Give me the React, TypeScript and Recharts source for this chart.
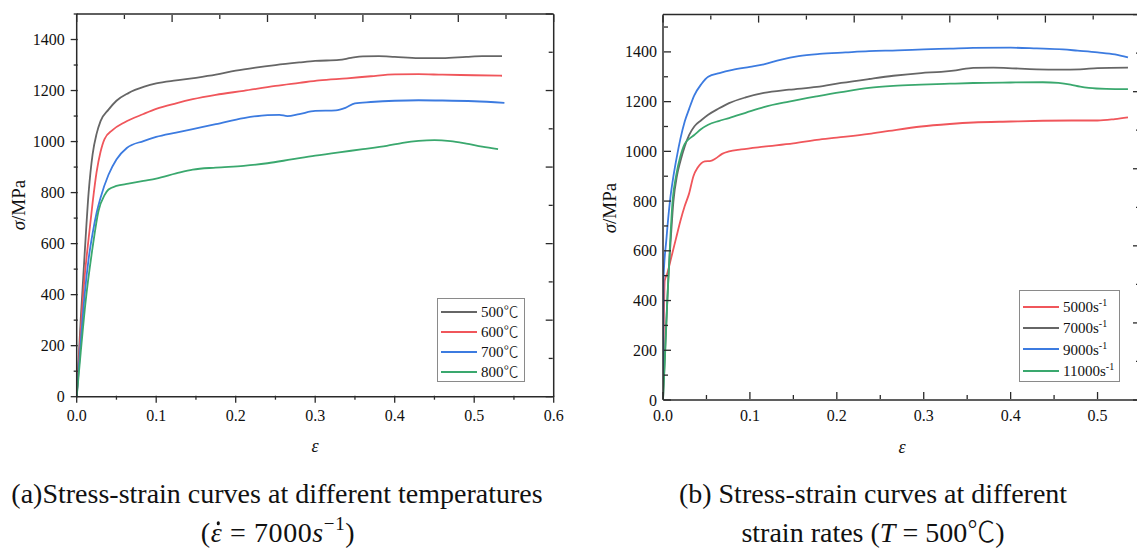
import { LineChart, Line, XAxis, YAxis } from 'recharts';

const FONT = '"Liberation Serif", "Times New Roman", Times, serif';
const AXIS = '#2a2a2a';
const TEXT = '#111';

// (a) different temperatures, strain rate 7000 s^-1 : [strain, stress MPa]
const tempNames = ['500', '600', '700', '800'];
const tempColors = ['#666666', '#f0565b', '#3c7be0', '#3aa86e'];

const t500 = [
  [0, 0], [0.005, 300], [0.01, 560], [0.015, 800], [0.02, 950], [0.025, 1030], [0.03, 1080],
  [0.04, 1125], [0.05, 1160], [0.065, 1190], [0.085, 1215], [0.1, 1228], [0.125, 1240],
  [0.15, 1250], [0.175, 1262], [0.2, 1278], [0.225, 1290], [0.25, 1300], [0.28, 1310],
  [0.3, 1316], [0.33, 1320], [0.345, 1328], [0.36, 1334], [0.38, 1335], [0.4, 1332],
  [0.43, 1327], [0.46, 1327], [0.49, 1332], [0.51, 1335], [0.535, 1335],
];
const t600 = [
  [0, 0], [0.005, 260], [0.01, 470], [0.015, 620], [0.02, 760], [0.025, 880], [0.03, 960],
  [0.035, 1010], [0.045, 1045], [0.06, 1075], [0.084, 1108], [0.1, 1128], [0.125, 1150],
  [0.146, 1166], [0.175, 1183], [0.21, 1199], [0.25, 1218], [0.28, 1230], [0.305, 1240],
  [0.34, 1248], [0.37, 1256], [0.4, 1263], [0.43, 1264], [0.46, 1262], [0.5, 1260], [0.535, 1258],
];
const t700 = [
  [0, 0], [0.005, 210], [0.01, 400], [0.015, 540], [0.02, 640], [0.025, 720], [0.03, 780],
  [0.04, 870], [0.05, 930], [0.063, 975], [0.084, 1002], [0.1, 1018], [0.125, 1035],
  [0.146, 1049], [0.175, 1068], [0.21, 1092], [0.24, 1104], [0.255, 1105], [0.265, 1100],
  [0.28, 1108], [0.3, 1120], [0.326, 1122], [0.338, 1132], [0.35, 1150], [0.37, 1155],
  [0.4, 1160], [0.43, 1162], [0.46, 1161], [0.5, 1158], [0.538, 1152],
];
const t800 = [
  [0, 0], [0.005, 172], [0.011, 367], [0.02, 585], [0.0275, 729], [0.035, 790], [0.04, 812],
  [0.05, 826], [0.065, 835], [0.084, 846], [0.1, 855], [0.125, 875], [0.146, 890], [0.175, 898],
  [0.21, 905], [0.24, 915], [0.27, 930], [0.3, 945], [0.33, 958], [0.36, 970], [0.39, 983],
  [0.41, 995], [0.43, 1003], [0.45, 1006], [0.47, 1002], [0.49, 992], [0.51, 980], [0.53, 970],
];

// (b) different strain rates, T = 500℃
const rateNames = ['5000', '7000', '9000', '11000'];
const rateColors = ['#f0565b', '#666666', '#3c7be0', '#3aa86e'];

const r5000 = [
  [0, 0], [0.002, 480], [0.005, 510], [0.01, 580], [0.015, 650], [0.02, 720], [0.025, 780],
  [0.03, 830], [0.035, 900], [0.04, 935], [0.048, 960], [0.055, 962], [0.06, 970], [0.068, 990],
  [0.076, 1000], [0.09, 1008], [0.116, 1019], [0.15, 1032], [0.177, 1046], [0.2, 1055],
  [0.237, 1070], [0.26, 1082], [0.297, 1100], [0.33, 1110], [0.357, 1116], [0.4, 1120],
  [0.437, 1123], [0.47, 1124], [0.5, 1124], [0.52, 1130], [0.535, 1137],
];
const r7000 = [
  [0, 0], [0.003, 250], [0.006, 480], [0.009, 650], [0.012, 800], [0.016, 900], [0.02, 960],
  [0.025, 1020], [0.03, 1065], [0.036, 1100], [0.044, 1125], [0.052, 1147], [0.064, 1172],
  [0.076, 1194], [0.095, 1217], [0.116, 1235], [0.145, 1248], [0.177, 1259], [0.205, 1275],
  [0.237, 1291], [0.265, 1304], [0.297, 1315], [0.32, 1320], [0.337, 1326], [0.357, 1336],
  [0.38, 1337], [0.397, 1335], [0.43, 1330], [0.457, 1329], [0.48, 1330], [0.5, 1335], [0.535, 1337],
];
const r9000 = [
  [0, 0], [0.0005, 480], [0.004, 650], [0.008, 800], [0.012, 900], [0.016, 980], [0.02, 1050],
  [0.025, 1120], [0.03, 1170], [0.036, 1225], [0.044, 1270], [0.052, 1300], [0.065, 1315],
  [0.08, 1328], [0.1, 1340], [0.116, 1350], [0.135, 1368], [0.156, 1383], [0.18, 1392],
  [0.21, 1398], [0.237, 1403], [0.27, 1406], [0.3, 1410], [0.33, 1413], [0.357, 1416],
  [0.4, 1417], [0.43, 1414], [0.46, 1410], [0.477, 1405], [0.5, 1398], [0.52, 1390], [0.535, 1378],
];
const r11000 = [
  [0, 0], [0.002, 150], [0.005, 400], [0.008, 620], [0.011, 800], [0.015, 900], [0.02, 980],
  [0.025, 1030], [0.03, 1050], [0.036, 1066], [0.044, 1090], [0.052, 1107], [0.064, 1122],
  [0.076, 1134], [0.095, 1155], [0.116, 1178], [0.145, 1200], [0.177, 1221], [0.205, 1238],
  [0.237, 1255], [0.265, 1263], [0.297, 1268], [0.33, 1272], [0.357, 1275], [0.4, 1277],
  [0.437, 1278], [0.455, 1275], [0.469, 1268], [0.48, 1260], [0.49, 1255], [0.51, 1251], [0.535, 1250],
];

// tick values
const leftStrainTicks = [0, 0.05, 0.1, 0.15, 0.2, 0.25, 0.3, 0.35, 0.4, 0.45, 0.5, 0.55, 0.6];
const leftTopTicks = [0, 0.06, 0.12, 0.18, 0.24, 0.3, 0.36, 0.42, 0.48, 0.54, 0.6];
const leftStressTicks = [0, 100, 200, 300, 400, 500, 600, 700, 800, 900, 1000, 1100, 1200, 1300, 1400, 1500];
const leftRightTicks = [0, 150, 300, 450, 600, 750, 900, 1050, 1200, 1350, 1500];
const rightStrainTicks = [0, 0.05, 0.1, 0.15, 0.2, 0.25, 0.3, 0.35, 0.4, 0.45, 0.5, 0.55];
const rightTopTicks = [0, 0.055, 0.11, 0.165, 0.22, 0.275, 0.33, 0.385, 0.44, 0.495, 0.55];
const rightStressTicks = [0, 100, 200, 300, 400, 500, 600, 700, 800, 900, 1000, 1100, 1200, 1300, 1400, 1500];
const rightRightTicks = [0, 155, 310, 465, 620, 775, 930, 1085, 1240, 1395, 1550];

const toPoints = (pairs: number[][]) => pairs.map(([e, s]) => ({ e, s }));

const isMajorStrain = (v: number) => Math.abs(v * 10 - Math.round(v * 10)) < 1e-6;
const isMajorStress = (v: number) => v % 200 === 0;

// tick x/y arrive at the axis line (axis size 1, tickSize 0, tickMargin 0)
function BottomTick(props: any) {
  const { x, y, payload, dir, labelDy } = props;
  const y0 = y - 1;
  const major = isMajorStrain(payload.value);
  const len = major ? 7 : 4;
  return (
    <g>
      <line x1={x} x2={x} y1={y0} y2={y0 + dir * len} stroke={AXIS} strokeWidth={1.3} />
      {major && (
        <text x={x} y={y0 + labelDy} textAnchor="middle" dominantBaseline="central"
          fontFamily={FONT} fontSize={16} fill={TEXT}>
          {payload.value.toFixed(1)}
        </text>
      )}
    </g>
  );
}

function LeftTick(props: any) {
  const { x, y, payload, dir, labelDx } = props;
  const x0 = x + 1;
  const major = isMajorStress(payload.value);
  const len = major ? 7 : 4;
  if (payload.value > 1400) {
    return <line x1={x0} x2={x0 + dir * 4} y1={y} y2={y} stroke={AXIS} strokeWidth={1.3} />;
  }
  return (
    <g>
      <line x1={x0} x2={x0 + dir * len} y1={y} y2={y} stroke={AXIS} strokeWidth={1.3} />
      {major && (
        <text x={x0 - labelDx} y={y} textAnchor="end" dominantBaseline="central"
          fontFamily={FONT} fontSize={16} fill={TEXT}>
          {payload.value}
        </text>
      )}
    </g>
  );
}

function TopTick(props: any) {
  const { x, y, index } = props;
  const y0 = y + 1;
  const len = index % 2 === 0 ? 7 : 4;
  return <line x1={x} x2={x} y1={y0} y2={y0 + len} stroke={AXIS} strokeWidth={1.3} />;
}

function RightTick(props: any) {
  const { x, y, index } = props;
  const x0 = x - 1;
  const len = index % 2 === 0 ? 7 : 4;
  return <line x1={x0} x2={x0 - len} y1={y} y2={y} stroke={AXIS} strokeWidth={1.3} />;
}

const axisLine = { stroke: AXIS, strokeWidth: 1.5 };

function StressChart(props: {
  series: number[][][];
  colors: string[];
  xMax: number;
  yMax: number;
  xTicks: number[];
  topTicks: number[];
  yTicks: number[];
  rightTicks: number[];
  width: number;
  height: number;
  margin: { top: number; right: number; bottom: number; left: number };
  xDir: number;
  yDir: number;
  xLabelDy: number;
  yLabelDx: number;
}) {
  const p = props;
  const m = p.margin;
  return (
    <LineChart width={p.width} height={p.height}
      margin={{ top: m.top - 1, right: m.right - 1, bottom: m.bottom - 1, left: m.left - 1 }}>
      <XAxis xAxisId="b" dataKey="e" type="number" domain={[0, p.xMax]} ticks={p.xTicks} interval={0}
        height={1} tickSize={0} tickMargin={0} tickLine={false} axisLine={axisLine}
        allowDataOverflow
        tick={(tp: any) => <BottomTick {...tp} dir={p.xDir} labelDy={p.xLabelDy} />} />
      <XAxis xAxisId="t" orientation="top" dataKey="e" type="number" domain={[0, p.xMax]}
        ticks={p.topTicks} interval={0} height={1} tickSize={0} tickMargin={0}
        tickLine={false} axisLine={axisLine} allowDataOverflow
        tick={(tp: any) => <TopTick {...tp} />} />
      <YAxis yAxisId="l" type="number" domain={[0, p.yMax]} ticks={p.yTicks} interval={0} width={1}
        tickSize={0} tickMargin={0} tickLine={false} axisLine={axisLine} allowDataOverflow
        tick={(tp: any) => <LeftTick {...tp} dir={p.yDir} labelDx={p.yLabelDx} />} />
      <YAxis yAxisId="r" orientation="right" type="number" domain={[0, p.yMax]}
        ticks={p.rightTicks} interval={0} width={1} tickSize={0} tickMargin={0}
        tickLine={false} axisLine={axisLine} allowDataOverflow
        tick={(tp: any) => <RightTick {...tp} />} />
      {p.series.map((s, i) => (
        <Line key={i} xAxisId="b" yAxisId="l" data={toPoints(s)} dataKey="s" type="monotone"
          stroke={p.colors[i]} strokeWidth={1.8} dot={false} activeDot={false}
          isAnimationActive={false} />
      ))}
    </LineChart>
  );
}

const abs = (left: number, top: number): React.CSSProperties => ({ position: 'absolute', left, top });

const Deg = () => (
  <span style={{ fontFamily: '"Noto Sans CJK SC", "DejaVu Sans", sans-serif', fontWeight: 300, lineHeight: 1 }}>℃</span>
);

function LegendBox(props: {
  left: number; top: number; width: number; height: number; rowTop: number; rowH: number;
  names: React.ReactNode[]; colors: string[];
}) {
  const p = props;
  return (
    <div style={{ ...abs(p.left, p.top), width: p.width, height: p.height, border: '1px solid #8a8a8a',
      boxSizing: 'border-box', background: '#fff', fontFamily: FONT, fontSize: 15, color: TEXT }}>
      {p.names.map((n, i) => (
        <div key={i} style={{ position: 'absolute', left: 3, top: p.rowTop + i * p.rowH, height: p.rowH,
          display: 'flex', alignItems: 'center', whiteSpace: 'nowrap' }}>
          <span style={{ display: 'inline-block', width: 36, height: 2, background: p.colors[i] }} />
          <span style={{ marginLeft: 4 }}>{n}</span>
        </div>
      ))}
    </div>
  );
}

const centered = (cx: number, cy: number, size: number): React.CSSProperties => ({
  position: 'absolute', left: cx, top: cy, transform: 'translate(-50%, -50%)', whiteSpace: 'nowrap',
  fontFamily: FONT, fontSize: size, color: TEXT, lineHeight: 1.2,
});

export default function App() {
  return (
    <div style={{ position: 'absolute', left: 0, top: 0, width: 1137, height: 549, overflow: 'hidden', background: '#fff' }}>
      <div style={abs(0, 0)}>
        <StressChart series={[t500, t600, t700, t800]} colors={tempColors} xMax={0.6} yMax={1500}
          xTicks={leftStrainTicks} topTicks={leftTopTicks} yTicks={leftStressTicks} rightTicks={leftRightTicks}
          width={590} height={470} margin={{ top: 14, left: 76.7, right: 36.3, bottom: 73.3 }}
          xDir={1} yDir={-1} xLabelDy={20} yLabelDx={13} />
      </div>
      <div style={abs(590, 0)}>
        <StressChart series={[r5000, r7000, r9000, r11000]} colors={rateColors} xMax={0.55} yMax={1550}
          xTicks={rightStrainTicks} topTicks={rightTopTicks} yTicks={rightStressTicks} rightTicks={rightRightTicks}
          width={600} height={470} margin={{ top: 14.6, left: 73, right: 49, bottom: 70 }}
          xDir={-1} yDir={1} xLabelDy={16} yLabelDx={7} />
      </div>

      <LegendBox left={437} top={298} width={88} height={84} rowTop={3} rowH={20}
        names={tempNames.map((n) => (<span key={n}>{n}<Deg /></span>))} colors={tempColors} />
      <LegendBox left={1019} top={290} width={101} height={92} rowTop={5} rowH={21.3}
        names={rateNames.map((n) => (<span key={n}>{n}s<sup style={{ fontSize: 10, verticalAlign: 6 }}>-1</sup></span>))}
        colors={rateColors} />

      <div style={{ ...centered(18.5, 205, 19), transform: 'translate(-50%, -50%) rotate(-90deg)' }}>
        <i>σ</i>/MPa
      </div>
      <div style={{ ...centered(609.7, 208, 19), transform: 'translate(-50%, -50%) rotate(-90deg)' }}>
        <i>σ</i>/MPa
      </div>
      <div style={centered(315, 447, 18)}><i>ε</i></div>
      <div style={centered(902, 448, 18)}><i>ε</i></div>

      <div style={centered(277, 494, 28)}>(a)Stress-strain curves at different temperatures</div>
      <div style={{ ...centered(278, 532, 28), letterSpacing: 0.6 }}>
        (<span style={{ position: 'relative', display: 'inline-block' }}>
          <i>ε</i>
          <span style={{ position: 'absolute', left: 6, top: 5, width: 3.5, height: 3.5,
            borderRadius: '50%', background: TEXT }} />
        </span>{' = '}7000<i>s</i><sup style={{ fontSize: 19, verticalAlign: 12, lineHeight: 1 }}>−1</sup>)
      </div>
      <div style={centered(873, 494, 28)}>(b) Stress-strain curves at different</div>
      <div style={centered(873, 533, 28)}>strain rates (<i>T</i> = 500<Deg />)</div>
    </div>
  );
}
